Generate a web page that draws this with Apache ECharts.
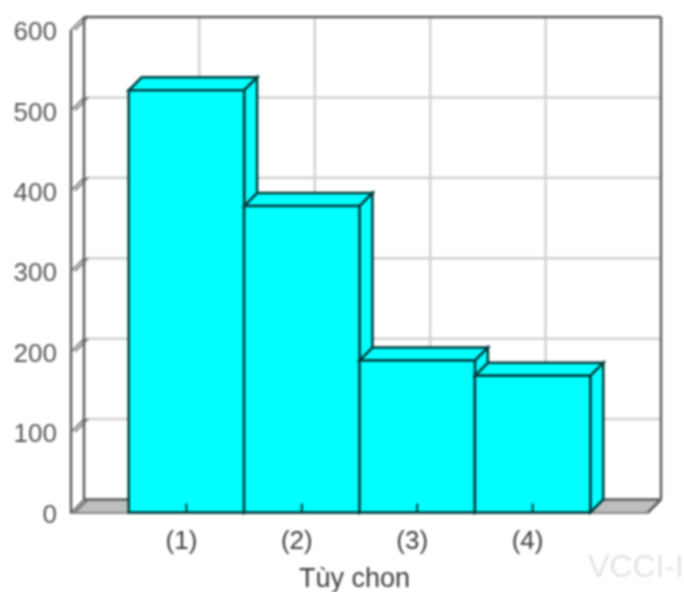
<!DOCTYPE html>
<html><head><meta charset="utf-8">
<style>html,body{margin:0;padding:0;background:#fff;overflow:hidden}#c{width:684px;height:592px;filter:blur(0.8px)}</style>
<script src="https://cdn.jsdelivr.net/npm/echarts@6/dist/echarts.min.js"></script>
</head><body><div id="c"></div>
<script>
var categories = ['', '(1)', '(2)', '(3)', '(4)', ''];
var barValues = [525, 381, 189, 170];
var barCategories = ['(1)', '(2)', '(3)', '(4)'];
var yTicks = [0, 100, 200, 300, 400, 500, 600];
var xTitle = 'Tùy chon';
var watermark = 'VCCI-I';

var D = 13; // depth offset of the pseudo-3D box
var FRAME = '#5c5c5c', GRID = '#d2d2d2', EDGE = '#003c3c', CYAN = '#00ffff', FLOOR = '#bdbdbd';

function poly(pts, fill, stroke, w) {
  return {type: 'polygon', shape: {points: pts}, style: {fill: fill || 'none', stroke: stroke || 'none', lineWidth: w || 0, lineJoin: 'miter'}};
}
function seg(x1, y1, x2, y2, c, w) {
  return {type: 'line', shape: {x1: x1, y1: y1, x2: x2, y2: y2}, style: {stroke: c, lineWidth: w}};
}
function wall(params, api) {
  var p00 = api.coord([0, 0]), p50 = api.coord([5, 0]), p06 = api.coord([0, 600]), p56 = api.coord([5, 600]);
  var ch = [];
  ch.push(poly([[p00[0], p00[1]], [p50[0], p50[1]], [p50[0] + D, p50[1] - D], [p00[0] + D, p00[1] - D]], FLOOR));
  yTicks.slice(1, -1).forEach(function (v) {
    var p = api.coord([0, v]), q = api.coord([5, v]);
    ch.push(seg(p[0] + D, p[1] - D, q[0] + D, q[1] - D, GRID, 2.5));
  });
  barCategories.forEach(function (n, i) {
    var p = api.coord([i + 1, 0]), q = api.coord([i + 1, 600]);
    ch.push(seg(p[0] + D, p[1] - D, q[0] + D, q[1] - D, GRID, 2.5));
  });
  ch.push(seg(p00[0], p00[1], p06[0], p06[1], FRAME, 2.5));
  ch.push(seg(p00[0] + D, p00[1] - D, p06[0] + D, p06[1] - D, FRAME, 2.5));
  ch.push(seg(p06[0] + D, p06[1] - D, p56[0] + D, p56[1] - D, FRAME, 2.5));
  ch.push(seg(p56[0] + D, p56[1] - D, p50[0] + D, p50[1] - D, FRAME, 2.5));
  ch.push(seg(p00[0] + D, p00[1] - D, p50[0] + D, p50[1] - D, FRAME, 2.5));
  ch.push(seg(p50[0], p50[1], p50[0] + D, p50[1] - D, FRAME, 2.5));
  yTicks.forEach(function (v) {
    var p = api.coord([0, v]);
    ch.push(seg(p[0], p[1], p[0] + D, p[1] - D, FRAME, 1.5));
    ch.push(seg(p[0] + 4, p[1], p[0] + D + 4, p[1] - D, FRAME, 1.5));
  });
  return {type: 'group', children: ch};
}
function bar(params, api) {
  var i = api.value(0), v = api.value(1);
  var c = api.coord([i, v]), b = api.coord([i, 0]);
  var w = api.size([1, 0])[0], l = c[0] - w / 2, r = c[0] + w / 2, t = c[1], y0 = b[1];
  return {type: 'group', children: [
    poly([[l, t], [r, t], [r + D, t - D], [l + D, t - D]], CYAN, EDGE, 2.5),
    poly([[r, t], [r + D, t - D], [r + D, y0 - D], [r, y0]], CYAN, EDGE, 2.5),
    poly([[l, t], [r, t], [r, y0], [l, y0]], CYAN, EDGE, 2.5),
    seg(c[0], y0, c[0], y0 - 9, EDGE, 2)
  ]};
}
var chart = echarts.init(document.getElementById('c'), null, {renderer: 'canvas'});
chart.setOption({
  animation: false,
  backgroundColor: '#fff',
  grid: {left: 71, right: 36, top: 30, bottom: 79.5, outerBoundsMode: 'none'},
  graphic: [{type: 'text', left: 588, top: 552, silent: true, style: {text: watermark, fill: '#e4e4e4', font: '32px "Liberation Sans"'}}],
  xAxis: {
    type: 'value', min: 0, max: 5, interval: 1,
    axisLine: {show: true, onZero: false, lineStyle: {color: FRAME, width: 2.5}},
    axisTick: {show: false}, splitLine: {show: false},
    axisLabel: {margin: 16, color: '#3c3c3c', fontFamily: 'Liberation Sans', fontSize: 26, padding: [0, 10, 0, 0],
      formatter: function (v) { return categories[v]; }},
    name: xTitle, nameLocation: 'middle', nameGap: 54,
    nameTextStyle: {color: '#3c3c3c', fontFamily: 'Liberation Sans', fontSize: 27, padding: [0, 10, 0, 0]}
  },
  yAxis: {
    type: 'value', min: 0, max: 600, interval: 100,
    axisLine: {show: false}, axisTick: {show: false}, splitLine: {show: false},
    axisLabel: {margin: 14, color: '#555', fontFamily: 'Liberation Sans', fontSize: 26, align: 'right', verticalAlign: 'top', lineHeight: 6,
      alignMinLabel: 'right', alignMaxLabel: 'right', verticalAlignMinLabel: 'top', verticalAlignMaxLabel: 'top'}
  },
  series: [
    {type: 'custom', silent: true, clip: false, z: 1, data: [[0, 0]], renderItem: wall},
    {type: 'custom', silent: true, clip: false, z: 2, encode: {x: 0, y: 1},
     data: barValues.map(function (v, i) { return [i + 1, v]; }), renderItem: bar}
  ]
});
</script></body></html>
